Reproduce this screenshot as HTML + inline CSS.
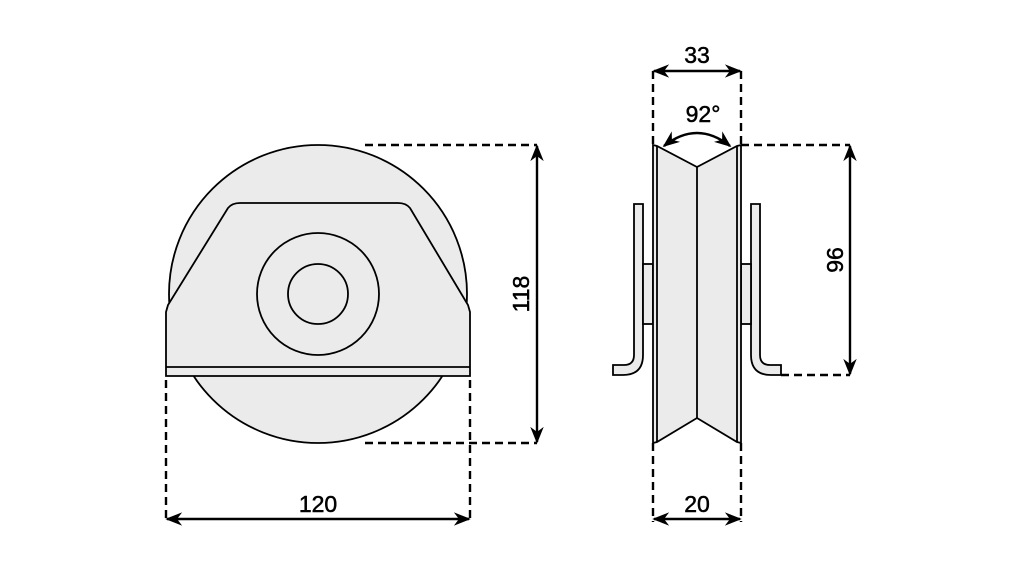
<!DOCTYPE html>
<html><head><style>body{margin:0;background:#fff}svg{display:block}</style></head><body>
<svg width="1021" height="568" viewBox="0 0 1021 568" xmlns="http://www.w3.org/2000/svg">
<defs>
<marker id="a" viewBox="0 0 10 10" refX="9" refY="5" markerWidth="7" markerHeight="7" orient="auto-start-reverse"><path d="M0,1 L10,5 L0,9 L3,5 Z" fill="#000"/></marker>
</defs>
<g fill="#ebebeb" stroke="#000" stroke-width="1.8">
<circle cx="318" cy="294" r="149"/>
<path d="M166,376 L166,312 L168,305 L228,208 Q232,203 240,203 L398,203 Q406,203 410,208 L468,305 L470,312 L470,376 Z"/>
<line x1="166" y1="367" x2="470" y2="367"/>
<circle cx="318" cy="294" r="61" fill="none"/>
<circle cx="318" cy="294" r="30" fill="none"/>
<path d="M634,204 L643,204 L643,355 Q643,375 623,375 L613,375 L613,365 L624,365 Q634,365 634,355 Z"/>
<path d="M760,204 L751,204 L751,355 Q751,375 771,375 L781,375 L781,365 L770,365 Q760,365 760,355 Z"/>
<rect x="643" y="264" width="10" height="60"/>
<rect x="741" y="264" width="10" height="60"/>
<path d="M653,145 L657,146 L697,167 L737,146 L741,145 L741,443 L737,442 L697,418 L657,442 L653,443 Z"/>
<line x1="657" y1="146" x2="657" y2="442"/>
<line x1="737" y1="146" x2="737" y2="442"/>
<line x1="697" y1="167" x2="697" y2="418"/>
</g>
<g stroke="#000" stroke-width="2.4" stroke-dasharray="8,5" fill="none">
<line x1="365" y1="145" x2="537" y2="145"/>
<line x1="365" y1="443" x2="537" y2="443"/>
<line x1="166" y1="380" x2="166" y2="519"/>
<line x1="470" y1="380" x2="470" y2="519"/>
<line x1="653" y1="71" x2="653" y2="145"/>
<line x1="741" y1="71" x2="741" y2="145"/>
<line x1="653" y1="443" x2="653" y2="522"/>
<line x1="741" y1="443" x2="741" y2="522"/>
<line x1="741" y1="145" x2="850" y2="145"/>
<line x1="781" y1="375" x2="850" y2="375"/>
</g>
<g stroke="#000" stroke-width="2.4" fill="none" marker-start="url(#a)" marker-end="url(#a)">
<line x1="537" y1="146" x2="537" y2="442"/>
<line x1="167" y1="519" x2="469" y2="519"/>
<line x1="654" y1="71" x2="740" y2="71"/>
<line x1="654" y1="519" x2="740" y2="519"/>
<line x1="850" y1="146" x2="850" y2="374"/>
<path d="M664,146 Q697,120 730,146"/>
</g>
<g font-family="Liberation Sans Narrow, Liberation Sans, sans-serif" font-size="23" text-anchor="middle" fill="#000" stroke="#000" stroke-width="0.5">
<text x="318" y="512">120</text>
<text x="697" y="512">20</text>
<text x="697" y="63">33</text>
<text x="703" y="122">92°</text>
<text transform="translate(529,294) rotate(-90)">118</text>
<text transform="translate(843,260) rotate(-90)">96</text>
</g>
</svg>
</body></html>
